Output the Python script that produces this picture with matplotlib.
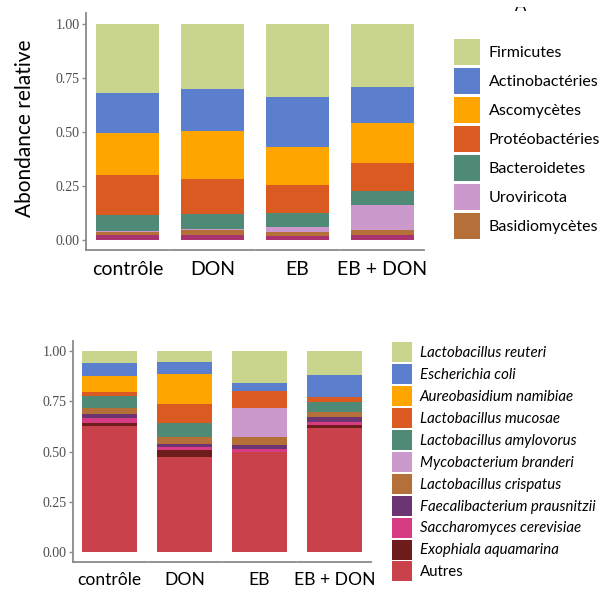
import matplotlib.pyplot as plt
from matplotlib.patches import Patch
from matplotlib.transforms import Bbox

groups = ['contrôle', 'DON', 'EB', 'EB + DON']

# top chart: phyla, stacked from the bottom
top_names = ['Autre', 'Basidiomycètes', 'Uroviricota', 'Bacteroidetes',
             'Protéobactéries', 'Ascomycètes', 'Actinobactéries', 'Firmicutes']
top_other = [0.025, 0.023, 0.019, 0.023]
top_basidio = [0.012, 0.022, 0.019, 0.023]
top_urovir = [0.005, 0.005, 0.021, 0.116]
top_bactero = [0.074, 0.069, 0.064, 0.066]
top_proteo = [0.186, 0.165, 0.132, 0.130]
top_ascomy = [0.195, 0.222, 0.177, 0.182]
top_actino = [0.183, 0.191, 0.231, 0.170]
top_firmi = [0.320, 0.303, 0.337, 0.290]
top_values = [top_other, top_basidio, top_urovir, top_bactero,
              top_proteo, top_ascomy, top_actino, top_firmi]

# bottom chart: species, stacked from the bottom
bot_names = ['Autres', 'Exophiala aquamarina', 'Saccharomyces cerevisiae',
             'Faecalibacterium prausnitzii', 'Lactobacillus crispatus',
             'Mycobacterium branderi', 'Lactobacillus amylovorus',
             'Lactobacillus mucosae', 'Aureobasidium namibiae',
             'Escherichia coli', 'Lactobacillus reuteri']
bot_autres = [0.630, 0.475, 0.500, 0.616]
bot_exoph = [0.015, 0.033, 0.000, 0.016]
bot_sacch = [0.023, 0.017, 0.015, 0.017]
bot_faecali = [0.022, 0.013, 0.018, 0.025]
bot_crisp = [0.025, 0.033, 0.038, 0.024]
bot_myco = [0.000, 0.000, 0.144, 0.000]
bot_amylo = [0.061, 0.073, 0.000, 0.050]
bot_mucosae = [0.022, 0.091, 0.086, 0.022]
bot_aureo = [0.078, 0.149, 0.000, 0.000]
bot_coli = [0.063, 0.060, 0.042, 0.111]
bot_reuteri = [0.061, 0.056, 0.157, 0.119]
bot_values = [bot_autres, bot_exoph, bot_sacch, bot_faecali, bot_crisp, bot_myco,
              bot_amylo, bot_mucosae, bot_aureo, bot_coli, bot_reuteri]

top_colors = ['#a8336e', '#b5703a', '#cc99cc', '#4e8a76',
              '#db5a22', '#ffa500', '#5b7fcc', '#c9d48c']
bot_colors = ['#c9414a', '#6e1c1c', '#d63b84', '#6b3472', '#b5703a', '#cc99cc',
              '#4e8a76', '#db5a22', '#ffa500', '#5b7fcc', '#c9d48c']

W, H = 606, 592
axis_grey = '#8a8a8a'
tick_font = 'Liberation Serif'
label_font = 'Lato'

fig = plt.figure(figsize=(W / 100, H / 100), dpi=100)


def facet_chart(values, colors, left, panel_w, gap, y0, y1, ymin, ymax, barw,
                label_pad, label_size):
    axes = []
    for i, g in enumerate(groups):
        x = left + i * (panel_w + gap)
        ax = fig.add_axes([x / W, 1 - y0 / H, panel_w / W, (y0 - y1) / H])
        bottom = 0
        for vals, c in zip(values, colors):
            ax.bar(0, vals[i], bottom=bottom, width=barw, color=c, linewidth=0)
            bottom += vals[i]
        ax.set_xlim(-0.5, 0.5)
        ax.set_ylim(ymin, ymax)
        for s in ['top', 'right']:
            ax.spines[s].set_visible(False)
        ax.spines['bottom'].set_color(axis_grey)
        ax.spines['bottom'].set_linewidth(1.3)
        ax.set_xticks([0])
        ax.set_xticklabels([g], fontfamily=label_font, fontsize=label_size)
        ax.tick_params(axis='x', length=0, pad=label_pad)
        if i == 0:
            ax.spines['left'].set_color(axis_grey)
            ax.spines['left'].set_linewidth(1.3)
            ax.set_yticks([0, 0.25, 0.5, 0.75, 1.0])
            ax.set_yticklabels(['0.00', '0.25', '0.50', '0.75', '1.00'],
                               fontfamily=tick_font, fontsize=10, color='#4d4d4d')
            ax.tick_params(axis='y', length=3, width=1, color=axis_grey, pad=1.5)
        else:
            ax.spines['left'].set_visible(False)
            ax.set_yticks([])
        axes.append(ax)
    return axes


top_axes = facet_chart(top_values, top_colors, 86, 83, 2, 250, 13.2,
                       -0.046, 1.05, 0.76, 8, 14)
top_axes[0].set_ylabel('Abondance relative', fontfamily=label_font, fontsize=15)
top_axes[0].yaxis.set_label_coords(-0.61, 0.515)

bot_axes = facet_chart(bot_values, bot_colors, 73, 73, 2, 562, 341.1,
                       -0.048, 1.05, 0.75, 7, 12.6)

# legends, listed top of stack first
top_handles = [Patch(color=c, linewidth=0) for c in top_colors[1:]][::-1]
top_labels = top_names[1:][::-1]
fig.legend(top_handles, top_labels, loc='upper left',
           bbox_to_anchor=(454 / W, 1 - 39 / H), frameon=False,
           prop={'family': label_font, 'size': 11.5}, borderpad=0, borderaxespad=0,
           handlelength=1.63, handleheight=2.13, labelspacing=0.19,
           handletextpad=0.56)

bot_handles = [Patch(color=c, linewidth=0) for c in bot_colors][::-1]
leg = fig.legend(bot_handles, bot_names[::-1], loc='upper left',
                 bbox_to_anchor=(392 / W, 1 - 342 / H), frameon=False,
                 prop={'family': label_font, 'size': 10.8}, borderpad=0,
                 borderaxespad=0, handlelength=1.33, handleheight=1.674,
                 labelspacing=0.13, handletextpad=0.53)
for t in leg.get_texts():
    if t.get_text() != 'Autres':
        t.set_style('italic')

# panel letter, only its foot shows at the top edge as in the source image
letter = fig.text(521 / W, 1 - 11 / H, 'A', fontfamily=label_font, fontsize=12,
                  ha='center', va='baseline', clip_on=True)
letter.set_clip_box(Bbox([[500, H - 11], [545, H - 7]]))

fig.savefig('out.png', dpi=100)
